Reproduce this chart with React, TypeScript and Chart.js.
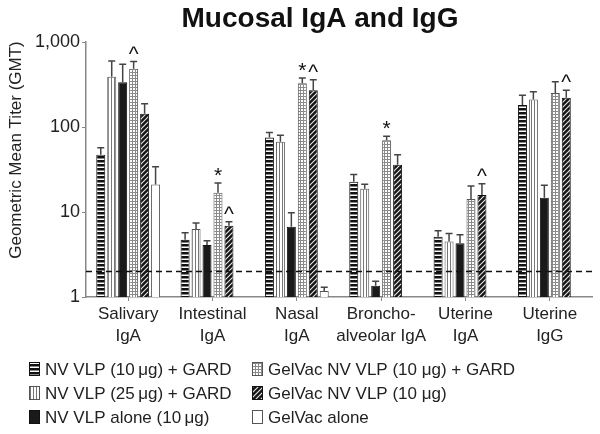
import React, { useEffect, useRef } from "react";
import { Chart, registerables } from "chart.js";

Chart.register(...registerables);

const categories = [
  ["Salivary", "IgA"],
  ["Intestinal", "IgA"],
  ["Nasal", "IgA"],
  ["Broncho-", "alveolar IgA"],
  ["Uterine", "IgA"],
  ["Uterine", "IgG"],
];

const seriesLabels = [
  "NV VLP (10\u2009\u03BCg) + GARD",
  "NV VLP (25\u2009\u03BCg) + GARD",
  "NV VLP alone (10\u2009\u03BCg)",
  "GelVac NV VLP (10 \u03BCg) + GARD",
  "GelVac NV VLP (10 \u03BCg)",
  "GelVac alone",
];

const nv10Gard = [47, 4.7, 75, 22.7, 5.1, 181];
const nv10GardErr = [57, 5.7, 86, 27.7, 6.0, 236];
const nv25Gard = [390, 6.3, 67, 18.8, 4.5, 211];
const nv25GardErr = [597, 7.4, 80, 21.2, 5.6, 260];
const nvAlone = [335, 4.1, 6.7, 1.36, 4.3, 14.7];
const nvAloneErr = [546, 4.6, 9.8, 1.53, 5.4, 20.6];
const gelGard = [485, 16.9, 327, 70, 14.2, 251];
const gelGardErr = [588, 22, 377, 78, 20.2, 341];
const gelNv = [143, 6.9, 270, 36, 15.8, 221];
const gelNvErr = [188, 7.7, 360, 47, 21.5, 270];
const gelAlone = [21, null, 1.18, null, null, null];
const gelAloneErr = [34, null, 1.3, null, null, null];

const noMarks = ["", "", "", "", "", ""];
const gelGardMarks = ["^", "*", "*", "*", "", ""];
const gelNvMarks = ["", "^", "^", "", "^", "^"];

const yTicks = [1, 10, 100, 1000];
const threshold = 2;

const FONT = "'Liberation Sans', Arial, Helvetica, sans-serif";

function makePattern(kind: string): CanvasPattern | string {
  const c = document.createElement("canvas");
  const ctx = c.getContext("2d")!;
  if (kind === "hstripe") {
    c.width = 4; c.height = 4;
    ctx.fillStyle = "#ffffff"; ctx.fillRect(0, 0, 4, 4);
    ctx.fillStyle = "#111111"; ctx.fillRect(0, 0, 4, 2.5);
  } else if (kind === "vstripe") {
    c.width = 3; c.height = 3;
    ctx.fillStyle = "#ffffff"; ctx.fillRect(0, 0, 3, 3);
    ctx.fillStyle = "#777777"; ctx.fillRect(0, 0, 1, 3);
  } else if (kind === "grid") {
    c.width = 3; c.height = 3;
    ctx.fillStyle = "#ffffff"; ctx.fillRect(0, 0, 3, 3);
    ctx.fillStyle = "#8a8a8a"; ctx.fillRect(0, 0, 1, 3); ctx.fillRect(0, 0, 3, 1);
  } else if (kind === "diag") {
    c.width = 5; c.height = 5;
    ctx.fillStyle = "#151515"; ctx.fillRect(0, 0, 5, 5);
    ctx.strokeStyle = "#e8e8e8"; ctx.lineWidth = 1.1;
    ctx.beginPath();
    ctx.moveTo(-1, 6); ctx.lineTo(6, -1);
    ctx.moveTo(-1, 1); ctx.lineTo(1, -1);
    ctx.moveTo(4, 6); ctx.lineTo(6, 4);
    ctx.stroke();
  } else {
    return kind;
  }
  return ctx.createPattern(c, "repeat")!;
}

export default function App() {
  const ref = useRef<HTMLCanvasElement>(null);

  useEffect(() => {
    const fills = [
      makePattern("hstripe"),
      makePattern("vstripe"),
      "#1a1a1a",
      makePattern("grid"),
      makePattern("diag"),
      "#ffffff",
    ];
    const borders = ["#111", "#555", "#111", "#555", "#111", "#555"];
    const values = [nv10Gard, nv25Gard, nvAlone, gelGard, gelNv, gelAlone];
    const errs = [nv10GardErr, nv25GardErr, nvAloneErr, gelGardErr, gelNvErr, gelAloneErr];
    const marks = [noMarks, noMarks, noMarks, gelGardMarks, gelNvMarks, noMarks];

    const custom = {
      id: "custom",
      afterDatasetsDraw(chart: any) {
        const ctx = chart.ctx as CanvasRenderingContext2D;
        const ys = chart.scales.y;
        const area = chart.chartArea;
        chart.data.datasets.forEach((ds: any, i: number) => {
          const meta = chart.getDatasetMeta(i);
          meta.data.forEach((el: any, j: number) => {
            const v = ds.data[j];
            const e = errs[i][j];
            if (v == null || e == null) return;
            const x = el.x;
            const y1 = ys.getPixelForValue(e);
            ctx.save();
            ctx.strokeStyle = "#444";
            ctx.lineWidth = 1.5;
            ctx.beginPath();
            ctx.moveTo(x, el.y);
            ctx.lineTo(x, y1);
            ctx.moveTo(x - 3.5, y1);
            ctx.lineTo(x + 3.5, y1);
            ctx.stroke();
            const m = marks[i][j];
            if (m) {
              ctx.fillStyle = "#111";
              ctx.font = `21px ${FONT}`;
              ctx.textAlign = "center";
              ctx.textBaseline = "alphabetic";
              ctx.fillText(m, x, y1 - 1);
            }
            ctx.restore();
          });
        });
        // threshold dashed line
        const ty = ys.getPixelForValue(threshold);
        ctx.save();
        ctx.strokeStyle = "#111";
        ctx.lineWidth = 1.5;
        ctx.setLineDash([6, 4]);
        ctx.beginPath();
        ctx.moveTo(area.left, ty);
        ctx.lineTo(area.right, ty);
        ctx.stroke();
        ctx.restore();
      },
      afterDraw(chart: any) {
        const ctx = chart.ctx as CanvasRenderingContext2D;
        ctx.save();
        // title
        ctx.fillStyle = "#111";
        ctx.font = `bold 28px ${FONT}`;
        ctx.textAlign = "center";
        ctx.textBaseline = "alphabetic";
        ctx.fillText("Mucosal IgA and IgG", 320, 27);
        // y title
        ctx.save();
        ctx.translate(16, 150);
        ctx.rotate(-Math.PI / 2);
        ctx.font = `17px ${FONT}`;
        ctx.fillStyle = "#222";
        ctx.textAlign = "center";
        ctx.textBaseline = "middle";
        ctx.fillText("Geometric Mean Titer (GMT)", 0, 0);
        ctx.restore();
        // legend
        const cols = [29, 252];
        const rows = [369, 393, 417];
        ctx.font = `17px ${FONT}`;
        ctx.textAlign = "left";
        ctx.textBaseline = "middle";
        chart.data.datasets.forEach((ds: any, i: number) => {
          const cx = cols[Math.floor(i / 3)];
          const cy = rows[i % 3];
          ctx.fillStyle = fills[i] as any;
          ctx.fillRect(cx, cy - 7, 11, 14);
          ctx.strokeStyle = borders[i];
          ctx.lineWidth = 1;
          ctx.strokeRect(cx + 0.5, cy - 6.5, 10, 13);
          ctx.fillStyle = "#222";
          ctx.fillText(ds.label, cx + 16, cy + 1);
        });
        ctx.restore();
      },
    };

    const chart = new Chart(ref.current!, {
      type: "bar",
      data: {
        labels: categories,
        datasets: values.map((v, i) => ({
          label: seriesLabels[i],
          data: v,
          backgroundColor: fills[i] as any,
          borderColor: borders[i],
          borderWidth: 1,
          categoryPercentage: 0.78,
          barPercentage: 0.82,
        })),
      },
      options: {
        responsive: false,
        animation: false,
        layout: { padding: { left: 0, top: 42, right: 8, bottom: 0 } },
        plugins: {
          legend: { display: false },
          title: { display: false },
          tooltip: { enabled: false },
        },
        scales: {
          x: {
            type: "category",
            offset: true,
            grid: { offset: false, drawOnChartArea: false, tickLength: 4, color: "#888" },
            border: { color: "#888", width: 1.5 },
            ticks: {
              font: { size: 17, family: FONT, lineHeight: 1.32 },
              color: "#222",
              padding: 2,
              maxRotation: 0,
              autoSkip: false,
            },
            afterFit: (s: any) => { s.height = 137; },
          },
          y: {
            type: "logarithmic",
            min: 1,
            max: 1000,
            grid: { drawOnChartArea: false, tickLength: 4, color: "#888" },
            border: { color: "#888", width: 1.5 },
            ticks: {
              font: { size: 18, family: FONT },
              color: "#222",
              padding: 2,
              callback: (v: any) => Number(v).toLocaleString("en-US"),
            },
            afterBuildTicks: (s: any) => { s.ticks = yTicks.map((v) => ({ value: v })); },
            afterFit: (s: any) => { s.width = 86; },
          },
        },
      },
      plugins: [custom],
    });
    return () => chart.destroy();
  }, []);

  return (
    <div style={{ position: "absolute", left: 0, top: 0, width: 600, height: 434, background: "#fff" }}>
      <canvas ref={ref} width={600} height={434} style={{ display: "block" }} />
    </div>
  );
}
